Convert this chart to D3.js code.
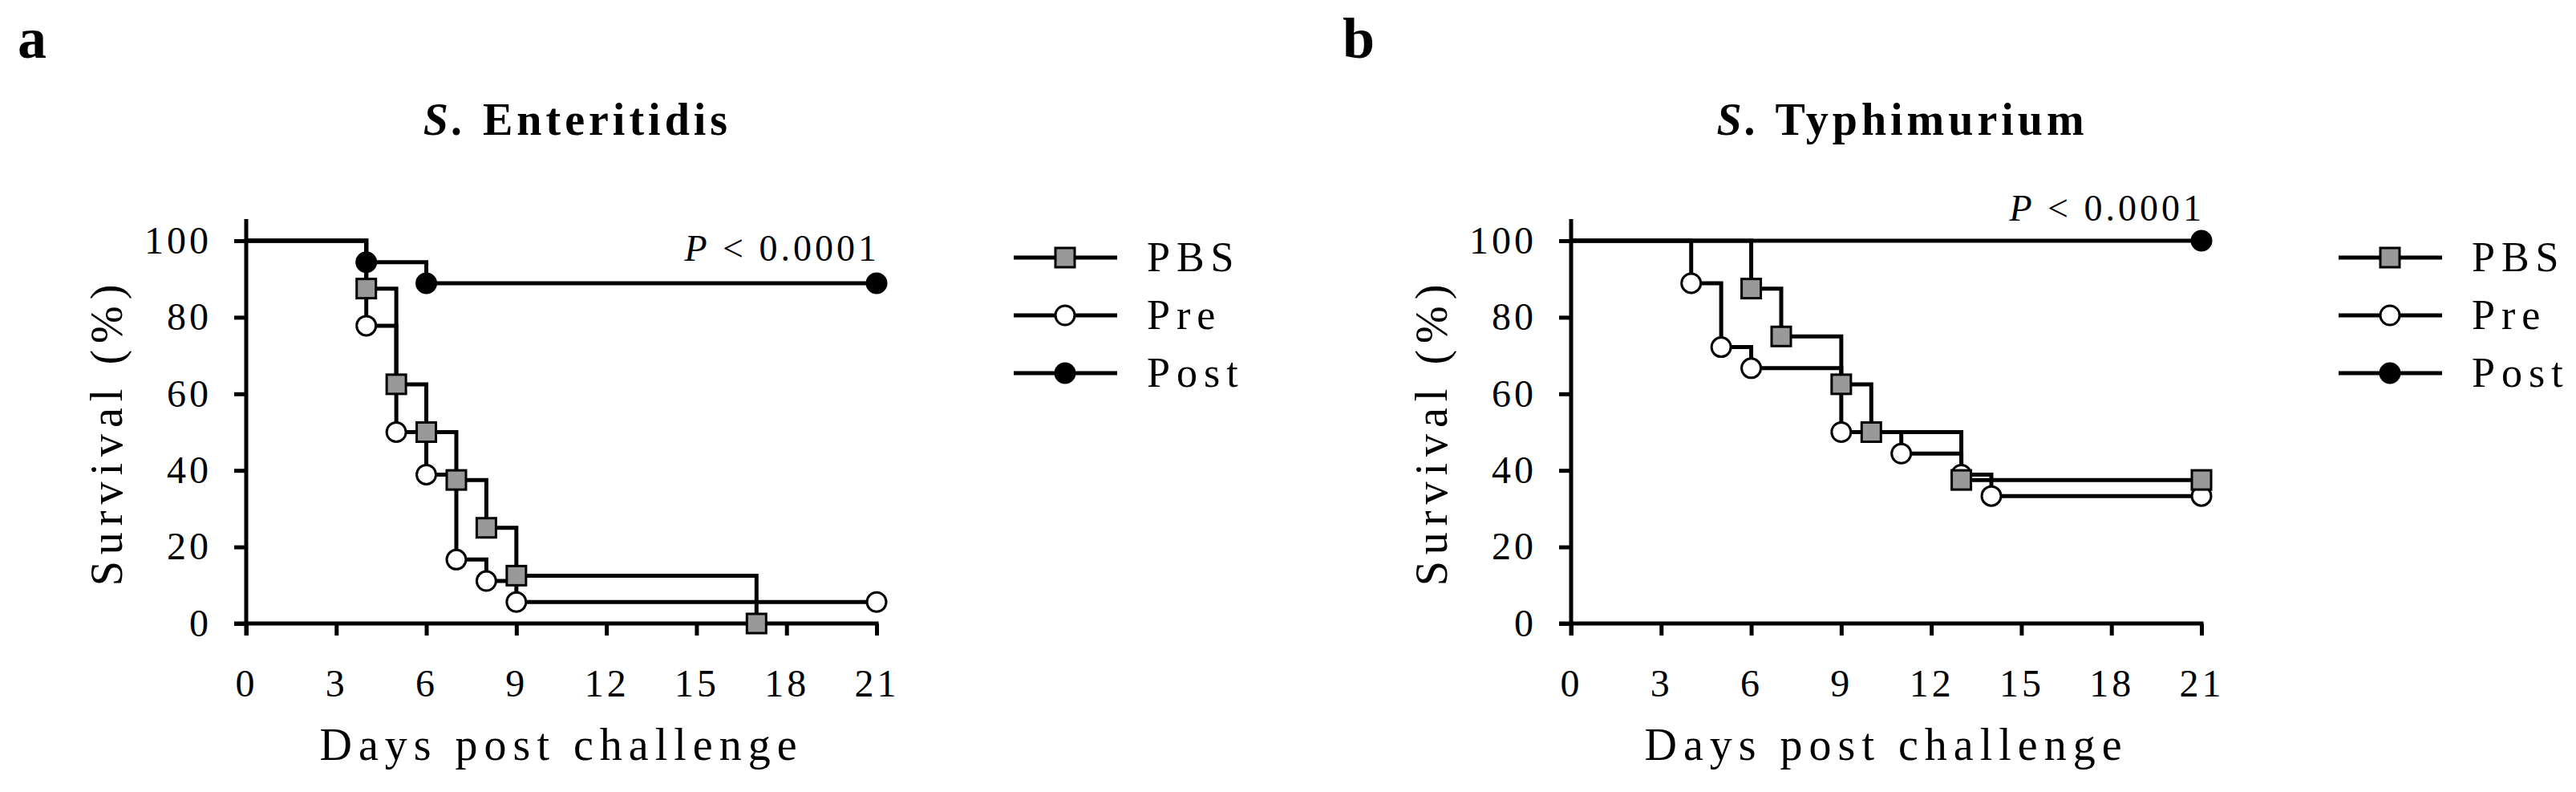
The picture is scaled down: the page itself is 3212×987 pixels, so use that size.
<!DOCTYPE html>
<html>
<head>
<meta charset="utf-8">
<script src="https://cdn.jsdelivr.net/npm/d3@7"></script>
<style>
  body { margin: 0; background: #fff; }
  text { font-family: "Liberation Serif", serif; fill: #000; }
</style>
</head>
<body>
<div id="chart"></div>
<script>
// survival data, [day, percent]
const enteritidisPBS = [[0, 100], [4, 87.5], [5, 62.5], [6, 50], [7, 37.5], [8, 25], [9, 12.5], [17, 0]];
const enteritidisPre = [[0, 100], [4, 77.8], [5, 50], [6, 38.9], [7, 16.7], [8, 11.1], [9, 5.6], [21, 5.6]];
const enteritidisPost = [[0, 100], [4, 94.4], [6, 88.9], [21, 88.9]];

const typhimuriumPBS = [[0, 100], [6, 87.5], [7, 75], [9, 62.5], [10, 50], [13, 37.5], [21, 37.5]];
const typhimuriumPre = [[0, 100], [4, 88.9], [5, 72.2], [6, 66.7], [9, 50], [11, 44.4], [13, 38.9], [14, 33.3], [21, 33.3]];
const typhimuriumPost = [[0, 100], [21, 100]];

const xTicks = [0, 3, 6, 9, 12, 15, 18, 21];
const yTicks = [0, 20, 40, 60, 80, 100];
const legendNames = ["PBS", "Pre", "Post"];

const panels = [
  {label: "a", title: "Enteritidis", series: [enteritidisPre, enteritidisPBS, enteritidisPost], pY: 325, offset: 0},
  {label: "b", title: "Typhimurium", series: [typhimuriumPre, typhimuriumPBS, typhimuriumPost], pY: 275, offset: 1652}
];
// order of series above: Pre, PBS, Post
const markers = ["circle", "square", "dot"];

const svg = d3.select("#chart").append("svg")
    .attr("width", 3212)
    .attr("height", 987);

const x = d3.scaleLinear().domain([0, 21]).range([0, 786]);
const y = d3.scaleLinear().domain([0, 100]).range([477, 0]);

function drawMarker(g, type, cx, cy) {
    if (type === "square") {
        g.append("rect").attr("x", cx - 12).attr("y", cy - 12).attr("width", 24).attr("height", 24)
            .attr("fill", "#999").attr("stroke", "#000").attr("stroke-width", 3);
    } else {
        g.append("circle").attr("cx", cx).attr("cy", cy).attr("r", 12)
            .attr("fill", type === "dot" ? "#000" : "#fff").attr("stroke", "#000").attr("stroke-width", 3);
    }
}

panels.forEach(p => {
    const root = svg.append("g").attr("transform", `translate(${p.offset},0)`);

    root.append("text").attr("x", 22).attr("y", 72)
        .attr("font-size", 72).attr("font-weight", "bold").text(p.label);

    const t = root.append("text").attr("x", 720).attr("y", 168).attr("text-anchor", "middle")
        .attr("font-size", 56).attr("font-weight", "bold").attr("letter-spacing", 5);
    t.append("tspan").attr("font-style", "italic").text("S.");
    t.append("tspan").text(" " + p.title);

    const g = root.append("g").attr("transform", "translate(307,300)");

    // axes
    const xAxis = g.append("g").attr("transform", `translate(0,${y(0)})`)
        .call(d3.axisBottom(x).tickValues(xTicks).tickSize(15).tickPadding(42));
    const yAxis = g.append("g")
        .call(d3.axisLeft(y).tickValues(yTicks).tickSize(15).tickPadding(28));
    [xAxis, yAxis].forEach(a => {
        a.select(".domain").remove();
        a.selectAll(".tick line").attr("stroke", "#000").attr("stroke-width", 5);
        a.selectAll("text").attr("font-size", 48).attr("font-family", "Liberation Serif").attr("letter-spacing", 4);
    });
    g.append("line").attr("x1", -15).attr("x2", x(21) + 2.5).attr("y1", y(0)).attr("y2", y(0))
        .attr("stroke", "#000").attr("stroke-width", 5);
    g.append("line").attr("x1", 0).attr("x2", 0).attr("y1", y(0) + 15).attr("y2", -27)
        .attr("stroke", "#000").attr("stroke-width", 5);

    g.append("text").attr("x", x(10.5)).attr("y", 647).attr("text-anchor", "middle")
        .attr("font-size", 56).attr("letter-spacing", 8).text("Days post challenge");
    g.append("text").attr("transform", `translate(-155,${y(50)}) rotate(-90)`).attr("text-anchor", "middle")
        .attr("font-size", 56).attr("letter-spacing", 8).text("Survival (%)");

    const pt = g.append("text").attr("x", x(21) + 4).attr("y", p.pY - 300).attr("text-anchor", "end")
        .attr("font-size", 46).attr("letter-spacing", 4);
    pt.append("tspan").attr("font-style", "italic").text("P");
    pt.append("tspan").text(" < 0.0001");

    const line = d3.line().x(d => x(d[0])).y(d => y(d[1])).curve(d3.curveStepAfter);

    p.series.forEach((s, i) => {
        g.append("path").datum(s).attr("d", line).attr("fill", "none")
            .attr("stroke", "#000").attr("stroke-width", 5);
    });
    p.series.forEach((s, i) => {
        s.slice(1).forEach(d => drawMarker(g, markers[i], x(d[0]), y(d[1])));
    });

    // legend: PBS, Pre, Post
    const legendTypes = ["square", "circle", "dot"];
    const lg = root.append("g");
    legendNames.forEach((name, i) => {
        const ly = 321 + i * 72;
        lg.append("line").attr("x1", 1264).attr("x2", 1393).attr("y1", ly).attr("y2", ly)
            .attr("stroke", "#000").attr("stroke-width", 5);
        drawMarker(lg, legendTypes[i], 1328, ly);
        lg.append("text").attr("x", 1430).attr("y", ly + 17)
            .attr("font-size", 52).attr("letter-spacing", 8).text(name);
    });
});
</script>
</body>
</html>
